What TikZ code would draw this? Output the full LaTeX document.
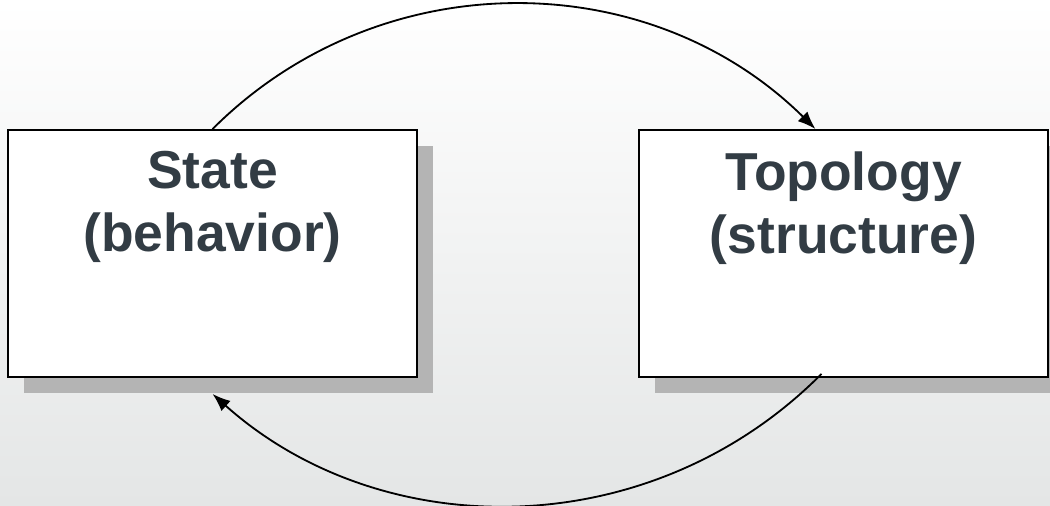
\documentclass[tikz,border=0pt]{standalone}
\usepackage{fontspec}
\setmainfont{Liberation Sans}
\usepackage{tikz}
\usetikzlibrary{arrows.meta,positioning,shadows}
\usepackage{xcolor}
\definecolor{slatetext}{HTML}{323C44}
\definecolor{shadowgray}{HTML}{B4B4B4}
\definecolor{bggray}{HTML}{E4E6E6}
\tikzset{
  loopbox/.style={
    draw=black,
    fill=white,
    line width=1.3pt,
    minimum width=10.225cm,
    minimum height=6.175cm,
    drop shadow={shadow xshift=0.4cm, shadow yshift=-0.4cm,
      fill=shadowgray, opacity=1}
  },
  boxtext/.style={
    inner sep=0pt,
    align=center,
    text=slatetext,
    font=\fontsize{38}{45}\selectfont\bfseries
  },
  arrow/.style={
    -{Latex[length=4.5mm,width=3.4mm]},
    line width=1.3pt,
    draw=black
  }
}

\begin{document}
\begin{tikzpicture}
\shade[top color=white, bottom color=bggray] (0,0) rectangle (26.25,-12.65);
\useasboundingbox (0,0) rectangle (26.25,-12.65);
\node[loopbox] (state) at (5.3125,-6.3375) {};
\node[loopbox] (topo) at (21.0875,-6.3375) {};
\node[boxtext, below=0.55cm of state.north] (statetxt) {State\\(behavior)};
\node[boxtext, below=0.55cm of topo.north] (topotxt) {Topology\\(structure)};
\coordinate (topin) at ([xshift=-0.7cm]topo.north);
\coordinate (topout) at ([xshift=-0.55cm, yshift=0.1cm]topo.south);
\coordinate (statein) at ([yshift=-0.4cm]state.south);
\draw[arrow] (state.north) .. controls +(4.175,4.175) and +(-4.175,4.125) .. (topin);
\draw[arrow] (topout) .. controls +(-4.25,-4.275) and +(4.25,-3.8) .. (statein);
\end{tikzpicture}
\end{document}
